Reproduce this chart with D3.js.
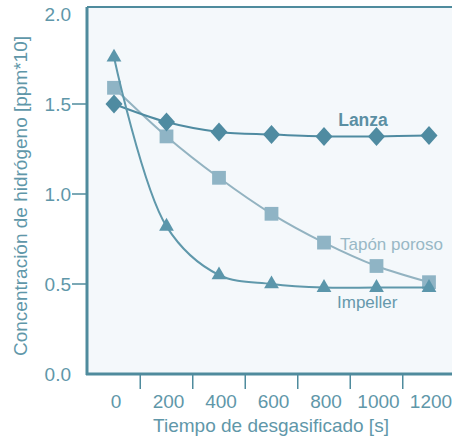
<!DOCTYPE html>
<html>
<head>
<meta charset="utf-8">
<style>
  body { margin: 0; background: #fff; }
  svg text { font-family: "Liberation Sans", Arial, sans-serif; }
</style>
</head>
<body>
<svg width="452" height="438"></svg>
<script src="https://d3js.org/d3.v7.min.js"></script>
<script>

// data
var times = [0, 200, 400, 600, 800, 1000, 1200];
var lanza = [1.50, 1.40, 1.345, 1.33, 1.32, 1.32, 1.325];
var tapon = [1.59, 1.32, 1.09, 0.89, 0.73, 0.60, 0.51];
var impeller = [1.76, 0.82, 0.55, 0.50, 0.48, 0.48, 0.48];
var yTicks = [0, 0.5, 1.0, 1.5, 2.0];
var xTickMarks = [100, 300, 500, 700, 900, 1100];

var svg = d3.select("svg"),
    axisColor = "#4f8b9d",
    textColor = "#5f97a9";

var x = d3.scaleLinear().domain([0, 1200]).range([114, 429]);
var y = d3.scaleLinear().domain([0, 2]).range([374, 14]);

// plot background
svg.append("rect")
    .attr("x", 87).attr("y", 7)
    .attr("width", 452 - 87).attr("height", 374 - 7)
    .attr("fill", "#f4f8fb");

svg.append("line")
    .attr("x1", 87).attr("x2", 452).attr("y1", 7).attr("y2", 7)
    .attr("stroke", axisColor).attr("stroke-width", 2);
svg.append("line")
    .attr("x1", 87).attr("x2", 87).attr("y1", 7).attr("y2", 375)
    .attr("stroke", axisColor).attr("stroke-width", 3);
svg.append("line")
    .attr("x1", 86).attr("x2", 452).attr("y1", 374).attr("y2", 374)
    .attr("stroke", axisColor).attr("stroke-width", 3);

// y ticks
svg.selectAll(".ytick")
    .data(yTicks.filter(function(d) { return d > 0 && d < 2; }))
  .enter().append("line")
    .attr("x1", 72).attr("x2", 87)
    .attr("y1", function(d) { return y(d); })
    .attr("y2", function(d) { return y(d); })
    .attr("stroke", axisColor).attr("stroke-width", 1.5);

svg.selectAll(".ylab")
    .data(yTicks)
  .enter().append("text")
    .attr("x", 71)
    .attr("y", function(d) { return y(d); })
    .attr("dy", "0.35em")
    .attr("text-anchor", "end")
    .attr("fill", textColor)
    .style("font-size", "19px")
    .text(function(d) { return d3.format(".1f")(d); });

// x ticks (between labels)
svg.selectAll(".xtick")
    .data(xTickMarks)
  .enter().append("line")
    .attr("x1", function(d) { return x(d); })
    .attr("x2", function(d) { return x(d); })
    .attr("y1", 374).attr("y2", 389)
    .attr("stroke", axisColor).attr("stroke-width", 1.5);

svg.selectAll(".xlab")
    .data(times)
  .enter().append("text")
    .attr("x", function(d) { return x(d) + 2; })
    .attr("y", 401)
    .attr("dy", "0.35em")
    .attr("text-anchor", "middle")
    .attr("fill", textColor)
    .style("font-size", "19px")
    .text(function(d) { return d; });

// axis titles
svg.append("text")
    .attr("x", 271).attr("y", 425)
    .attr("dy", "0.35em")
    .attr("text-anchor", "middle")
    .attr("fill", textColor)
    .style("font-size", "19px")
    .text("Tiempo de desgasificado [s]");

svg.append("text")
    .attr("transform", "translate(20,196) rotate(-90)")
    .attr("dy", "0.35em")
    .attr("text-anchor", "middle")
    .attr("fill", textColor)
    .style("font-size", "19px")
    .text("Concentración de hidrógeno [ppm*10]");

function drawSeries(values, lineColor, markColor, shape, size, curve) {
  var pts = times.map(function(t, i) { return [t, values[i]]; });
  var line = d3.line()
      .x(function(d) { return x(d[0]); })
      .y(function(d) { return y(d[1]); })
      .curve(curve);
  svg.append("path")
      .datum(pts)
      .attr("fill", "none")
      .attr("stroke", lineColor)
      .attr("stroke-width", 2)
      .attr("d", line);
  svg.selectAll(null)
      .data(pts)
    .enter().append("path")
      .attr("transform", function(d) { return "translate(" + x(d[0]) + "," + y(d[1]) + ")"; })
      .attr("d", shape(size))
      .attr("fill", markColor);
}

function square(s) { return d3.symbol().type(d3.symbolSquare).size(s)(); }
function triangle(s) { return d3.symbol().type(d3.symbolTriangle).size(s)(); }
function diamond(s) {
  var w = s / 2, h = s / 2 + 1;
  return "M0," + (-h) + "L" + w + ",0L0," + h + "L" + (-w) + ",0Z";
}

drawSeries(tapon, "#93b3c1", "#8fb4c5", square, 190, d3.curveCatmullRom);
drawSeries(lanza, "#4f8ba1", "#4f8ba1", diamond, 17, d3.curveCatmullRom);
drawSeries(impeller, "#5f98ab", "#5b96ab", triangle, 95, d3.curveCatmullRom.alpha(0.5));

// series labels
svg.append("text")
    .attr("x", 363).attr("y", 120)
    .attr("dy", "0.35em")
    .attr("text-anchor", "middle")
    .attr("fill", "#5b8fa3")
    .style("font-size", "17.5px")
    .style("font-weight", "bold")
    .text("Lanza");

svg.append("text")
    .attr("x", 340).attr("y", 244)
    .attr("dy", "0.35em")
    .attr("fill", "#99b8c6")
    .style("font-size", "17px")
    .text("Tapón poroso");

svg.append("text")
    .attr("x", 337).attr("y", 302)
    .attr("dy", "0.35em")
    .attr("fill", "#6699ac")
    .style("font-size", "17px")
    .text("Impeller");

</script>
</body>
</html>
